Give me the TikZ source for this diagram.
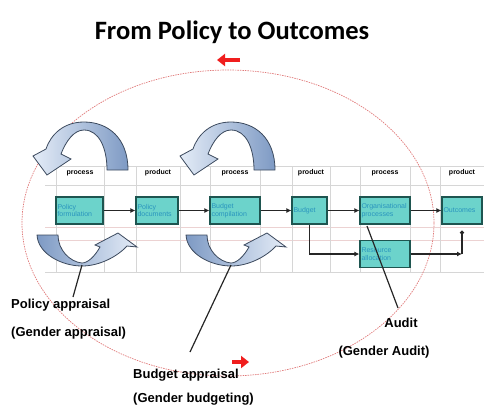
\documentclass[tikz,border=0pt]{standalone}
\usepackage{fontspec}
\setmainfont{Liberation Sans}
\newfontfamily\titlefont{Carlito}
\usetikzlibrary{arrows.meta}
\definecolor{boxfill}{HTML}{6CD3CB}
\definecolor{boxline}{HTML}{1E5550}
\definecolor{boxtext}{HTML}{2A95BE}
\definecolor{ringred}{HTML}{E07A7A}
\definecolor{markred}{HTML}{F01E1E}
\definecolor{gridgray}{HTML}{D6D6D6}
\definecolor{gridpink}{HTML}{ECD2D2}
\definecolor{arrowlight}{HTML}{E4ECF7}
\definecolor{arrowdark}{HTML}{7E9AC4}
\definecolor{arrowedge}{HTML}{3C4A5E}
\begin{document}
\begin{tikzpicture}[x=1pt,y=-1pt,
  stagebox/.style={draw=boxline, line width=1.2pt, fill=boxfill, minimum height=27pt,
    inner sep=1.5pt, text=boxtext, font=\fontsize{7}{7.5}\selectfont, align=left, text width=#1},
  headlabel/.style={font=\bfseries\fontsize{7}{8}\selectfont},
  flow/.style={draw=black!85, line width=1.3pt, -{Latex[length=5pt,width=5pt]}},
  gridh/.style={draw=gridgray, line width=0.6pt},
  gridp/.style={draw=gridpink, line width=0.6pt},
  toparrow/.style={draw=arrowedge, line width=0.8pt, left color=arrowlight, right color=arrowdark},
  uarrow/.style={draw=arrowedge, line width=0.8pt, left color=arrowdark, right color=arrowlight},
  pointer/.style={draw=black!85, line width=1.2pt},
  note/.style={font=\bfseries\fontsize{13}{14}\selectfont, inner sep=0pt},
  ring/.style={draw=ringred, line width=0.7pt, dash pattern=on 1.5pt off 1pt},
  redmark/.style={draw=markred, line width=3.5pt, -{Triangle[length=8pt,width=12pt]}}
]
\useasboundingbox (0,0) rectangle (484,408);

% title
\node[font=\titlefont\bfseries\fontsize{26.5}{30}\selectfont] (title) at (232,32) {From Policy to Outcomes};

% table grid behind the stages
\foreach \yy in {166,185} \draw[gridh] (45,\yy) -- (484,\yy);
\foreach \yy in {227,240} \draw[gridp] (45,\yy) -- (484,\yy);
\draw[gridh] (45,272) -- (484,272);
\foreach \xx in {56,104,136,180,210,260,292,330,360,410,440}
  \draw[gridh] (\xx,166) -- (\xx,272);

% column headings
\foreach \xx/\lbl in {80/process,158/product,235/process,311/product,385/process,462/product}
  \node[headlabel] at (\xx,173) {\lbl};

% cycle ring
\draw[ring] (228,223) ellipse [x radius=206, y radius=153];
\coordinate (toptail) at (240,60);
\coordinate (toptip) at (217,60);
\coordinate (bottail) at (232,362);
\coordinate (bottip) at (249,362);
\draw[redmark] (toptail) -- (toptip);
\draw[redmark] (bottail) -- (bottip);

% stages
\node[stagebox=44pt] (formulation) at (79.5,210.5) {Policy\\formulation};
\node[stagebox=39pt] (documents) at (157,210.5) {Policy\\documents};
\node[stagebox=47pt] (compilation) at (235,210.5) {Budget\\compilation};
\node[stagebox=32pt] (budget) at (309.5,210.5) {Budget};
\node[stagebox=47pt] (processes) at (385,210.5) {Organisational\\processes};
\node[stagebox=37pt] (outcomes) at (462,210.5) {Outcomes};
\node[stagebox=47pt] (allocation) at (385,254) {Resource\\allocation};

% flow between stages
\draw[flow] (formulation) -- (documents);
\draw[flow] (documents) -- (compilation);
\draw[flow] (compilation) -- (budget);
\draw[flow] (budget) -- (processes);
\draw[flow] (processes) -- (outcomes);
\draw[flow] (budget.south) |- (allocation.west);
\coordinate (joint) at (allocation.east -| outcomes.south);
\draw[flow] (allocation.east) -- (joint);
\draw[draw=black!85, line width=1.3pt, {Circle[length=4pt]}-] ([yshift=-6pt]outcomes.south) -- (joint);

% feedback arrows over the stages
\foreach \dx in {0,147} {
  \path[toparrow, xshift=\dx] (128,170) .. controls (128,138) and (108,122) .. (84,122)
    .. controls (64,122) and (51,134) .. (46,149)
    -- (33,156) -- (47,175) -- (71,159) -- (61,154)
    .. controls (66,141) and (74,130) .. (84,130)
    .. controls (99,130) and (107,148) .. (107,170) -- cycle;
}
% appraisal arrows under the stages
\foreach \dx in {0,149} {
  \path[uarrow, xshift=\dx] (37,235) .. controls (38,254) and (62,266) .. (82,266)
    .. controls (100,266) and (118,256) .. (127,246)
    -- (137,247) -- (118,233) -- (95,245) -- (100,247)
    .. controls (95,256) and (88,263) .. (82,263)
    .. controls (70,262) and (58,250) .. (58,235) -- cycle;
}

% notes and their pointers
\node[note, anchor=west] (policynote) at (11,305) {Policy appraisal};
\node[note, anchor=west] (policysub) at (11,333) {(Gender appraisal)};
\node[note, anchor=west] (budgetnote) at (133,375) {Budget appraisal};
\node[note, anchor=west] (budgetsub) at (133,399) {(Gender budgeting)};
\node[note] (auditnote) at (401,323) {Audit};
\node[note] (auditsub) at (384,352) {(Gender Audit)};

\coordinate (policytop) at (82,265);
\coordinate (policyend) at (73,297);
\coordinate (budgettop) at (231,265);
\coordinate (budgetend) at (190,352);
\coordinate (audittop) at (367,226);
\coordinate (auditend) at (398,308);
\draw[pointer] (policytop) -- (policyend);
\draw[pointer] (budgettop) -- (budgetend);
\draw[pointer] (audittop) -- (auditend);
\end{tikzpicture}
\end{document}
